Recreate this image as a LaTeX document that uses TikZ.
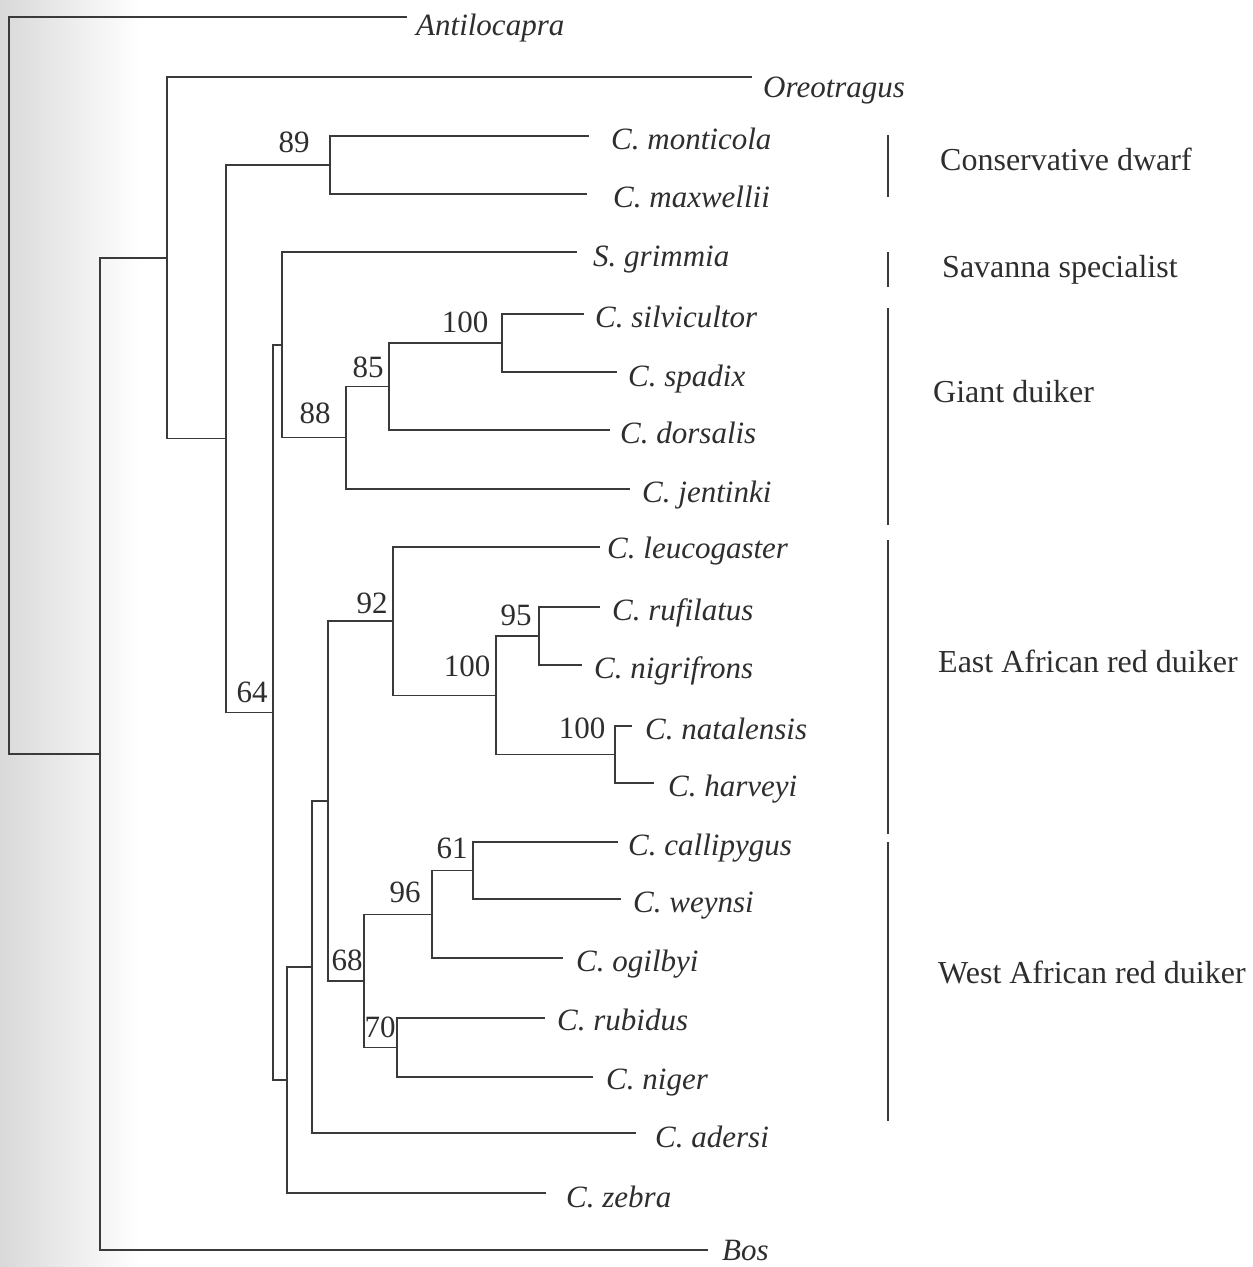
\documentclass[tikz,border=0pt]{standalone}
\usepackage{fontspec}
\setmainfont{Liberation Serif}
\definecolor{linec}{HTML}{3A3A3A}
\definecolor{textc}{HTML}{2E2E2E}
\begin{document}
\begin{tikzpicture}[x=1pt,y=-1pt,
  br/.style={draw=linec, line width=1.3pt},
  leaf/.style={anchor=base west, inner sep=0pt, text=textc, font=\fontsize{31}{36}\selectfont\itshape},
  supp/.style={anchor=center, inner sep=0pt, text=textc, font=\fontsize{31}{36}\selectfont},
  grp/.style={anchor=base west, inner sep=0pt, text=textc, font=\fontsize{32}{38}\selectfont},
  bar/.style={draw=linec, line width=2pt}]
\useasboundingbox (0,0) rectangle (1253,1267);
\fill[white] (0,0) rectangle (1253,1267);
\shade[left color=black!15, right color=white] (0,0) rectangle (140,1267);

% ---------- leaf tips and labels ----------
\coordinate (t-anti) at (407,17);   \node[leaf] (anti) at (416,35)   {Antilocapra};
\coordinate (t-oreo) at (752,77);   \node[leaf] (oreo) at (763,97)   {Oreotragus};
\coordinate (t-mont) at (589,136);  \node[leaf] (mont) at (611,149)  {C. monticola};
\coordinate (t-maxw) at (587,194);  \node[leaf] (maxw) at (613,207)  {C. maxwellii};
\coordinate (t-grim) at (577,252);  \node[leaf] (grim) at (593,266)  {S. grimmia};
\coordinate (t-silv) at (584,314);  \node[leaf] (silv) at (595,327)  {C. silvicultor};
\coordinate (t-spad) at (617,372);  \node[leaf] (spad) at (628,386)  {C. spadix};
\coordinate (t-dors) at (610,430);  \node[leaf] (dors) at (620,443)  {C. dorsalis};
\coordinate (t-jent) at (630,489);  \node[leaf] (jent) at (642,502)  {C. jentinki};
\coordinate (t-leuc) at (600,547);  \node[leaf] (leuc) at (607,558)  {C. leucogaster};
\coordinate (t-rufi) at (600,607);  \node[leaf] (rufi) at (612,620)  {C. rufilatus};
\coordinate (t-nigr) at (582,665);  \node[leaf] (nigr) at (594,678)  {C. nigrifrons};
\coordinate (t-nata) at (632,726);  \node[leaf] (nata) at (645,739)  {C. natalensis};
\coordinate (t-harv) at (654,783);  \node[leaf] (harv) at (668,796)  {C. harveyi};
\coordinate (t-call) at (618,842);  \node[leaf] (call) at (628,855)  {C. callipygus};
\coordinate (t-weyn) at (621,899);  \node[leaf] (weyn) at (633,912)  {C. weynsi};
\coordinate (t-ogil) at (563,958);  \node[leaf] (ogil) at (576,971)  {C. ogilbyi};
\coordinate (t-rubi) at (545,1018); \node[leaf] (rubi) at (557,1030) {C. rubidus};
\coordinate (t-nige) at (593,1077); \node[leaf] (nige) at (606,1089) {C. niger};
\coordinate (t-ader) at (636,1133); \node[leaf] (ader) at (655,1147) {C. adersi};
\coordinate (t-zebr) at (546,1193); \node[leaf] (zebr) at (566,1207) {C. zebra};
\coordinate (t-bos)  at (708,1250); \node[leaf] (bos)  at (722,1260) {Bos};

% ---------- internal nodes ----------
\coordinate (n100a) at (502,343);
\coordinate (n85)   at (389,386.5);
\coordinate (n88)   at (346,437.75);
\coordinate (ngs)   at (282,344.9);
\coordinate (n95)   at (539,636);
\coordinate (n100c) at (615,754.5);
\coordinate (n100b) at (496,695.25);
\coordinate (n92)   at (393,621.1);
\coordinate (n61)   at (473,870.5);
\coordinate (n96)   at (432,914.25);
\coordinate (n70)   at (397,1047.5);
\coordinate (n68)   at (364,980.9);
\coordinate (nr1)   at (328,801);
\coordinate (nr2)   at (312,967);
\coordinate (nr3)   at (287,1080);
\coordinate (n64)   at (273,712.5);
\coordinate (n89)   at (330,165);
\coordinate (nC)    at (226,438.7);
\coordinate (nB)    at (167,257.9);
\coordinate (nA)    at (100,753.9);
\coordinate (root)  at (9,385.5);

% ---------- branches ----------
\draw[br] (root) |- (t-anti);  \draw[br] (root) |- (nA);
\draw[br] (nA) |- (nB);        \draw[br] (nA) |- (t-bos);
\draw[br] (nB) |- (t-oreo);    \draw[br] (nB) |- (nC);
\draw[br] (nC) |- (n89);       \draw[br] (nC) |- (n64);
\draw[br] (n89) |- (t-mont);   \draw[br] (n89) |- (t-maxw);
\draw[br] (n64) |- (ngs);      \draw[br] (n64) |- (nr3);
\draw[br] (ngs) |- (t-grim);   \draw[br] (ngs) |- (n88);
\draw[br] (n88) |- (n85);      \draw[br] (n88) |- (t-jent);
\draw[br] (n85) |- (n100a);    \draw[br] (n85) |- (t-dors);
\draw[br] (n100a) |- (t-silv); \draw[br] (n100a) |- (t-spad);
\draw[br] (nr3) |- (nr2);      \draw[br] (nr3) |- (t-zebr);
\draw[br] (nr2) |- (nr1);      \draw[br] (nr2) |- (t-ader);
\draw[br] (nr1) |- (n92);      \draw[br] (nr1) |- (n68);
\draw[br] (n92) |- (t-leuc);   \draw[br] (n92) |- (n100b);
\draw[br] (n100b) |- (n95);    \draw[br] (n100b) |- (n100c);
\draw[br] (n95) |- (t-rufi);   \draw[br] (n95) |- (t-nigr);
\draw[br] (n100c) |- (t-nata); \draw[br] (n100c) |- (t-harv);
\draw[br] (n68) |- (n96);      \draw[br] (n68) |- (n70);
\draw[br] (n96) |- (n61);      \draw[br] (n96) |- (t-ogil);
\draw[br] (n61) |- (t-call);   \draw[br] (n61) |- (t-weyn);
\draw[br] (n70) |- (t-rubi);   \draw[br] (n70) |- (t-nige);

% ---------- support values ----------
\node[supp] (s89)   at (294,142)  {89};
\node[supp] (s100a) at (465,322)  {100};
\node[supp] (s85)   at (368,367)  {85};
\node[supp] (s88)   at (315,413)  {88};
\node[supp] (s92)   at (372,603)  {92};
\node[supp] (s95)   at (516,615)  {95};
\node[supp] (s100b) at (467,666)  {100};
\node[supp] (s100c) at (582,728)  {100};
\node[supp] (s61)   at (452,848)  {61};
\node[supp] (s96)   at (405,892)  {96};
\node[supp] (s68)   at (347,960)  {68};
\node[supp] (s70)   at (380,1027) {70};
\node[supp] (s64)   at (252,692)  {64};

% ---------- group bars and labels ----------
\coordinate (b1a) at (888,135);  \coordinate (b1b) at (888,197);
\coordinate (b2a) at (888,252);  \coordinate (b2b) at (888,287);
\coordinate (b3a) at (888,308);  \coordinate (b3b) at (888,525);
\coordinate (b4a) at (888,540);  \coordinate (b4b) at (888,834);
\coordinate (b5a) at (888,842);  \coordinate (b5b) at (888,1121);
\draw[bar] (b1a) -- (b1b);
\draw[bar] (b2a) -- (b2b);
\draw[bar] (b3a) -- (b3b);
\draw[bar] (b4a) -- (b4b);
\draw[bar] (b5a) -- (b5b);
\node[grp] (g1) at (940,170) {Conservative dwarf};
\node[grp] (g2) at (942,277) {Savanna specialist};
\node[grp] (g3) at (933,402) {Giant duiker};
\node[grp] (g4) at (938,672) {East African red duiker};
\node[grp] (g5) at (938,983) {West African red duiker};
\end{tikzpicture}
\end{document}
